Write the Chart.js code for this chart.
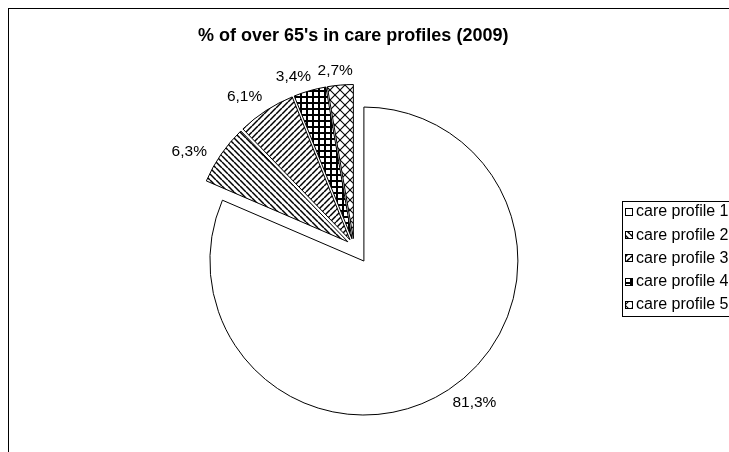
<!DOCTYPE html>
<html>
<head>
<meta charset="utf-8">
<script src="https://cdn.jsdelivr.net/npm/chart.js@4.4.1/dist/chart.umd.min.js"></script>
<style>
  html, body { margin: 0; padding: 0; background: #fff; overflow: hidden; }
  #wrap { position: relative; width: 729px; height: 452px; }
</style>
</head>
<body>
<div id="wrap"><canvas id="chart" width="729" height="452"></canvas></div>
<script>
// ---- data ----
const chartTitle = "% of over 65's in care profiles (2009)";
const categories = ['care profile 1', 'care profile 2', 'care profile 3', 'care profile 4', 'care profile 5'];
const shares = [81.3, 6.3, 6.1, 3.4, 2.7];
const fillKinds = ['plain', 'down', 'up', 'grid', 'diamond'];
// how far each slice is pulled out from the pie centre (px)
const explodeOffsets = [18, 7.5, 7.5, 7.5, 7.5];

const FONT = "'Liberation Sans', Arial, Helvetica, sans-serif";

// "81,3%" style labels, from the same values as the slices
const fmtShare = v => v.toFixed(1).replace('.', ',') + '%';

// Black-and-white hatch fills
function makeFill(kind) {
  if (kind === 'plain') return '#ffffff';
  const s = { down: 6, up: 6, grid: 6, diamond: 10 }[kind];
  const c = document.createElement('canvas');
  c.width = c.height = s;
  const g = c.getContext('2d');
  g.fillStyle = '#fff';
  g.fillRect(0, 0, s, s);
  g.strokeStyle = '#000';
  g.fillStyle = '#000';
  if (kind === 'down' || kind === 'up') {
    g.lineWidth = 1.5;
    for (let k = -1; k <= 1; k++) {
      g.beginPath();
      if (kind === 'down') { g.moveTo(k * s, 0); g.lineTo(k * s + s, s); }
      else { g.moveTo(k * s, s); g.lineTo(k * s + s, 0); }
      g.stroke();
    }
  } else if (kind === 'grid') {
    g.fillRect(0, 0, s, 2);
    g.fillRect(0, 0, 2, s);
  } else if (kind === 'diamond') {
    g.lineWidth = 1.1;
    for (let k = -1; k <= 1; k++) {
      g.beginPath(); g.moveTo(k * s, 0); g.lineTo(k * s + s, s); g.stroke();
      g.beginPath(); g.moveTo(k * s, s); g.lineTo(k * s + s, 0); g.stroke();
    }
  }
  return g.createPattern(c, 'repeat');
}
const fills = fillKinds.map(makeFill);

// Outer frame (left and top edges visible)
const framePlugin = {
  id: 'frame',
  beforeDraw(chart) {
    const ctx = chart.ctx;
    ctx.save();
    ctx.fillStyle = '#fff';
    ctx.fillRect(0, 0, chart.width, chart.height);
    ctx.strokeStyle = '#000';
    ctx.lineWidth = 1;
    ctx.strokeRect(8.5, 8.5, chart.width + 50, chart.height + 50);
    ctx.restore();
  }
};

// Pull every slice out along its own bisector
const explodePlugin = {
  id: 'explode',
  afterDatasetsUpdate(chart) {
    chart.getDatasetMeta(0).data.forEach((arc, i) => {
      const d = explodeOffsets[i] || 0;
      const mid = (arc.startAngle + arc.endAngle) / 2;
      arc.x += Math.cos(mid) * d;
      arc.y += Math.sin(mid) * d;
    });
  }
};

// Percentage labels just outside each slice
const sliceLabelPlugin = {
  id: 'sliceLabels',
  afterDatasetsDraw(chart) {
    const ctx = chart.ctx;
    const ds = chart.data.datasets[0];
    const clamp = v => Math.max(-1, Math.min(1, v));
    ctx.save();
    ctx.font = '15.5px ' + FONT;
    ctx.fillStyle = '#000';
    ctx.textAlign = 'center';
    ctx.textBaseline = 'middle';
    chart.getDatasetMeta(0).data.forEach((arc, i) => {
      const txt = fmtShare(ds.data[i]);
      const mid = (arc.startAngle + arc.endAngle) / 2;
      const dx = Math.cos(mid), dy = Math.sin(mid);
      const r = arc.outerRadius + 7;
      const w = ctx.measureText(txt).width, h = 15;
      const cy = clamp((Math.abs(dy) - 0.6) * 5) * Math.sign(dy);
      const cx = clamp(dx * 3);
      const x = arc.x + dx * r + cx * w / 2 + (1 - Math.abs(cy)) * Math.sign(dx) * 10;
      const y = arc.y + dy * r + cy * h / 2;
      ctx.fillText(txt, x, y);
    });
    ctx.restore();
  }
};

// Boxed legend on the right
const boxLegendPlugin = {
  id: 'boxLegend',
  afterDraw(chart) {
    const ctx = chart.ctx;
    const ds = chart.data.datasets[0];
    ctx.save();
    ctx.strokeStyle = '#000';
    ctx.lineWidth = 1;
    ctx.strokeRect(622.5, 201.5, 200, 115);
    ctx.font = '16px ' + FONT;
    ctx.textAlign = 'left';
    ctx.textBaseline = 'middle';
    chart.data.labels.forEach((lab, i) => {
      const y = 212 + i * 23.2;
      ctx.fillStyle = ds.backgroundColor[i];
      ctx.fillRect(625.5, Math.round(y) - 3.5, 7, 7);
      ctx.strokeRect(625.5, Math.round(y) - 3.5, 7, 7);
      ctx.fillStyle = '#000';
      ctx.fillText(lab, 636, y);
    });
    ctx.restore();
  }
};

new Chart(document.getElementById('chart'), {
  type: 'pie',
  data: {
    labels: categories,
    datasets: [{
      data: shares,
      backgroundColor: fills,
      borderColor: '#000',
      borderWidth: 1,
      borderJoinStyle: 'miter',
      hoverOffset: 0,
      radius: 154
    }]
  },
  options: {
    responsive: false,
    animation: false,
    events: [],
    layout: { padding: { left: 198, right: 219, top: 0, bottom: 16.6 } },
    plugins: {
      title: {
        display: true,
        text: chartTitle,
        align: 'start',
        color: '#000',
        font: { family: FONT, size: 18, weight: 'bold' },
        padding: { top: 25, bottom: 10 }
      },
      legend: { display: false },
      tooltip: { enabled: false }
    }
  },
  plugins: [framePlugin, explodePlugin, sliceLabelPlugin, boxLegendPlugin]
});
</script>
</body>
</html>
